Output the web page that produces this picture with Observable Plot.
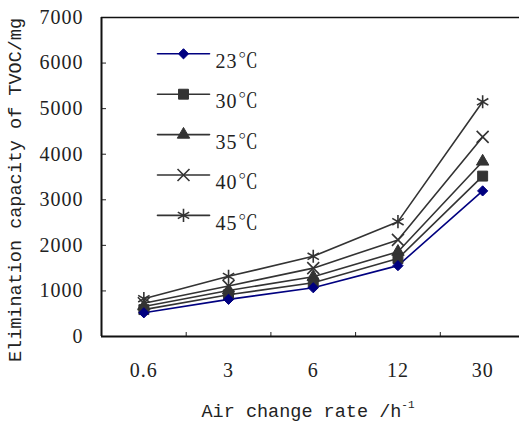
<!DOCTYPE html>
<html><head><meta charset="utf-8">
<script src="https://cdn.jsdelivr.net/npm/d3@7"></script>
<script src="https://cdn.jsdelivr.net/npm/@observablehq/plot@0.6"></script>
<style>
@font-face{font-family:"DegSerif";src:local("Noto Serif CJK SC"),local("Noto Serif CJK SC Regular"),local("NotoSerifCJKsc-Regular");unicode-range:U+2103;}
body{margin:0;background:#fff;}
#wrap{position:relative;width:519px;height:423px;overflow:hidden;background:#fff;}
.t{position:absolute;font-family:"Liberation Mono",monospace;font-size:18.5px;line-height:20px;color:#222;white-space:nowrap;}
</style></head><body>
<div id="wrap"></div>
<script>
// Data
const rates = ["0.6", "3", "6", "12", "30"];           // air change rate (h^-1), categorical
const series = ["23℃", "30℃", "35℃", "40℃", "45℃"];
const v23 = [520, 815, 1070, 1555, 3195];
const v30 = [590, 915, 1180, 1710, 3520];
const v35 = [660, 1010, 1310, 1860, 3840];
const v40 = [730, 1110, 1500, 2120, 4380];
const v45 = [830, 1320, 1760, 2520, 5150];
const yTicks = [0, 1000, 2000, 3000, 4000, 5000, 6000, 7000];
const yTitle = "Elimination capacity of TVOC/mg";
const xTitle = "Air change rate /h";
const xTitleSup = "-1";

const values = [v23, v30, v35, v40, v45];
const symbols = ["diamond2", "square", "triangle", "times", "asterisk"];
const filled = [true, true, true, false, false];
const radii = [4.6, 5.6, 4.6, 5.5, 6.2];
const colors = ["#000080", "#333333", "#333333", "#333333", "#333333"];
const serifFont = "DegSerif, 'Liberation Serif', 'Noto Serif CJK SC', serif";

const rows = series.flatMap((s, k) => values[k].map((v, i) => ({s, k, i, v})));
const idx = rates.map((_, i) => i);
const bounds = d3.range(1, rates.length).map(i => i - 0.5);

const lineShape = {draw(context, l) { context.moveTo(0, 0); context.lineTo(0, -l); }};

const marks = [
  Plot.axisY({ticks: yTicks, tickSize: -5, tickPadding: 23, tickFormat: d => String(d), label: null, fontSize: 20, stroke: "#222"}),
  Plot.axisX({ticks: idx, tickSize: 0, tickPadding: 26, tickFormat: i => rates[i], label: null, fontSize: 20}),
  Plot.axisX({ticks: bounds, tickSize: -4, tickFormat: () => "", label: null, stroke: "#222"}),
  Plot.ruleY([0], {stroke: "#111", strokeWidth: 2}),
  Plot.ruleY([7000], {stroke: "#111", strokeWidth: 1.5}),
  Plot.ruleX([-0.5], {stroke: "#111", strokeWidth: 2})
];

// lines, drawn from highest to lowest so the navy line sits on top
for (let k = series.length - 1; k >= 0; --k) {
  const d = rows.filter(r => r.k === k);
  marks.push(Plot.line(d, {x: "i", y: "v", stroke: colors[k], strokeWidth: 1.6}));
}
for (let k = series.length - 1; k >= 0; --k) {
  const d = rows.filter(r => r.k === k);
  marks.push(Plot.dot(d, {x: "i", y: "v", symbol: symbols[k], r: radii[k],
    fill: filled[k] ? colors[k] : "none", stroke: colors[k], strokeWidth: filled[k] ? 1 : 1.6}));
}

// legend inside the plot frame
series.forEach((s, k) => {
  const dy = 36.3 + k * 40.4;
  marks.push(Plot.vector([0], {frameAnchor: "top-left", dx: 82, dy, rotate: 90, length: 52, anchor: "middle",
    shape: lineShape, stroke: colors[k], strokeWidth: 1.6}));
  marks.push(Plot.dot([0], {frameAnchor: "top-left", dx: 82, dy, symbol: symbols[k], r: radii[k],
    fill: filled[k] ? colors[k] : "none", stroke: colors[k], strokeWidth: filled[k] ? 1 : 1.6}));
  marks.push(Plot.text([s], {frameAnchor: "top-left", dx: 114, dy, text: d => d, textAnchor: "start",
    fontSize: 20, fill: "#222", fontFamily: serifFont}));
});

const chart = Plot.plot({
  width: 519, height: 423,
  marginLeft: 101, marginTop: 17, marginBottom: 87, marginRight: 0,
  x: {type: "linear", domain: [-0.5, rates.length - 0.5], range: [101, 524.5]},
  y: {domain: [0, 7000], range: [336, 17]},
  style: {fontSize: "20px", color: "#222", background: "transparent"},
  marks
});

chart.setAttribute("font-family", serifFont);
chart.style.fontFamily = serifFont;
chart.querySelectorAll("text").forEach(t => {
  t.setAttribute("font-family", serifFont);
  t.style.fontFamily = serifFont;
  t.style.letterSpacing = "1px";
});

const wrap = document.getElementById("wrap");
wrap.appendChild(chart);

const yt = document.createElement("div");
yt.className = "t";
yt.textContent = yTitle;
yt.style.left = "17px"; yt.style.top = "190px";
yt.style.transform = "translate(-50%,-50%) rotate(-90deg)";
wrap.appendChild(yt);

const xt = document.createElement("div");
xt.className = "t";
xt.style.left = "201.5px"; xt.style.top = "403px";
xt.appendChild(document.createTextNode(xTitle));
const sup = document.createElement("span");
sup.textContent = xTitleSup;
sup.style.cssText = "font-size:11px;position:relative;top:-9px;";
xt.appendChild(sup);
wrap.appendChild(xt);
</script>
</body></html>
